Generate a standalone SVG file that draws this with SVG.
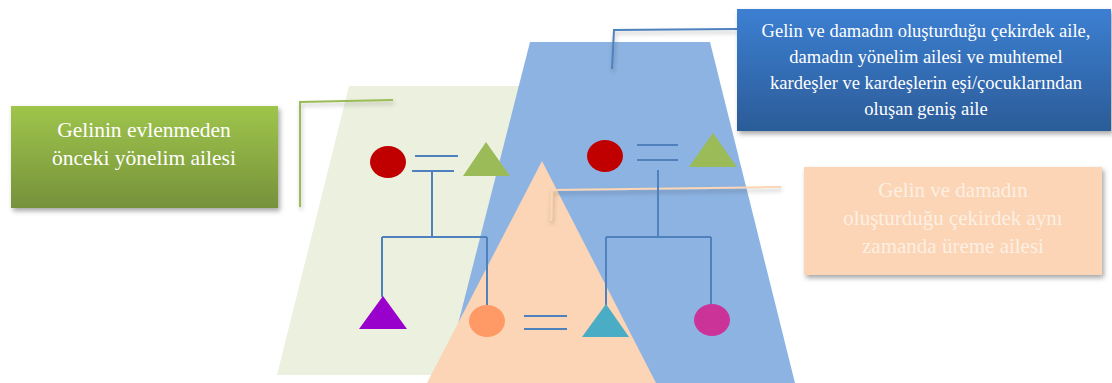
<svg xmlns="http://www.w3.org/2000/svg" width="1112" height="383" viewBox="0 0 1112 383">
  <style>
    .link { stroke: #4f81bd; stroke-width: 2; fill: none; }
    .label { font-family: "Liberation Serif", "Times New Roman", serif; text-anchor: middle; }
    .callout { fill: none; stroke-width: 2; filter: url(#lineShadow); }
  </style>
  <defs>
    <linearGradient id="greenFill" x1="0" y1="0" x2="0" y2="1">
      <stop offset="0" stop-color="#9fc54b"/>
      <stop offset="1" stop-color="#76923b"/>
    </linearGradient>
    <linearGradient id="blueFill" x1="0" y1="0" x2="0" y2="1">
      <stop offset="0" stop-color="#3c7fd2"/>
      <stop offset="1" stop-color="#2b5c98"/>
    </linearGradient>
    <filter id="boxShadow" x="-10%" y="-10%" width="125%" height="130%">
      <feDropShadow dx="2" dy="3" stdDeviation="2.5" flood-color="#000" flood-opacity="0.35"/>
    </filter>
    <filter id="lineShadow" x="-20%" y="-50%" width="140%" height="250%">
      <feDropShadow dx="1" dy="3" stdDeviation="2" flood-color="#000" flood-opacity="0.25"/>
    </filter>
  </defs>

  <!-- background regions -->
  <g id="regions">
    <polygon id="family-of-orientation-bride" points="349,86 560,86 489,375 277,375" fill="#ebf1de"/>
    <polygon id="extended-family" points="530,42 710,42 795,383 443,383" fill="#8db3e2"/>
    <polygon id="nuclear-family" points="542,161 656,383 427,383" fill="#fbd5b5"/>
  </g>

  <!-- callout leader lines -->
  <g id="callouts">
    <polyline class="callout" stroke="#9bbb59" points="393,100 300,102 300,207"/>
    <polyline class="callout" stroke="#4f81bd" points="612,69 614,30 737,29"/>
    <polyline class="callout" stroke="#fbd5b5" points="551,221 552,190 781,187"/>
    <line class="callout" stroke="#fbd5b5" x1="781" y1="167" x2="781" y2="273"/>
  </g>

  <!-- connectors -->
  <g id="connectors">
    <!-- bride's parents -->
    <line class="link" x1="415" y1="156" x2="458" y2="156"/>
    <line class="link" x1="412" y1="171" x2="454" y2="171"/>
    <line class="link" x1="432" y1="171" x2="432" y2="237"/>
    <line class="link" x1="382" y1="237" x2="487" y2="237"/>
    <line class="link" x1="382" y1="237" x2="382" y2="297"/>
    <line class="link" x1="487" y1="237" x2="487" y2="305"/>
    <!-- groom's parents -->
    <line class="link" x1="637" y1="145" x2="678" y2="145"/>
    <line class="link" x1="637" y1="160" x2="678" y2="160"/>
    <line class="link" x1="658" y1="170" x2="658" y2="237"/>
    <line class="link" x1="606" y1="237" x2="711" y2="237"/>
    <line class="link" x1="606" y1="237" x2="606" y2="305"/>
    <line class="link" x1="711" y1="237" x2="711" y2="304"/>
    <!-- bride and groom -->
    <line class="link" x1="524" y1="316" x2="567" y2="316"/>
    <line class="link" x1="524" y1="329" x2="567" y2="329"/>
  </g>

  <!-- people -->
  <g id="bride-mother"><ellipse cx="388" cy="162" rx="18" ry="16" fill="#c00000"/></g>
  <g id="bride-father"><polygon points="486,142 510,176 463,176" fill="#9bbb59"/></g>
  <g id="bride-brother"><polygon points="383,296 407,329 359,329" fill="#9900cc"/></g>
  <g id="bride"><ellipse cx="487" cy="321" rx="18" ry="16" fill="#ff9966"/></g>
  <g id="groom-mother"><ellipse cx="605" cy="156" rx="18" ry="16" fill="#c00000"/></g>
  <g id="groom-father"><polygon points="713,133 737,167 689,167" fill="#9bbb59"/></g>
  <g id="groom"><polygon points="606,304 629,337 582,337" fill="#4bacc6"/></g>
  <g id="groom-sister"><ellipse cx="712" cy="320" rx="18" ry="16" fill="#cc3399"/></g>

  <!-- label boxes -->
  <g id="label-orientation">
    <rect x="11" y="106" width="267" height="102" fill="url(#greenFill)" filter="url(#boxShadow)"/>
    <text class="label" x="144" y="137" font-size="21.5" fill="#ffffff">Gelinin evlenmeden</text>
    <text class="label" x="144" y="165" font-size="21.5" fill="#ffffff">önceki yönelim ailesi</text>
  </g>
  <g id="label-extended">
    <rect x="737" y="9" width="374" height="122" fill="url(#blueFill)" filter="url(#boxShadow)"/>
    <text class="label" x="926" y="37" font-size="18.5" fill="#ffffff">Gelin ve damadın oluşturduğu çekirdek aile,</text>
    <text class="label" x="926" y="63" font-size="18.5" fill="#ffffff">damadın yönelim ailesi ve muhtemel</text>
    <text class="label" x="926" y="89" font-size="18.5" fill="#ffffff">kardeşler ve kardeşlerin eşi/çocuklarından</text>
    <text class="label" x="926" y="115" font-size="18.5" fill="#ffffff">oluşan geniş aile</text>
  </g>
  <g id="label-nuclear">
    <rect x="804" y="167" width="298" height="108" fill="#fbd5b5" filter="url(#boxShadow)"/>
    <text class="label" x="953" y="197" font-size="21" fill="#fdefe3">Gelin ve damadın</text>
    <text class="label" x="953" y="225" font-size="21" fill="#fdefe3">oluşturduğu çekirdek aynı</text>
    <text class="label" x="953" y="253" font-size="21" fill="#fdefe3">zamanda üreme ailesi</text>
  </g>
</svg>
